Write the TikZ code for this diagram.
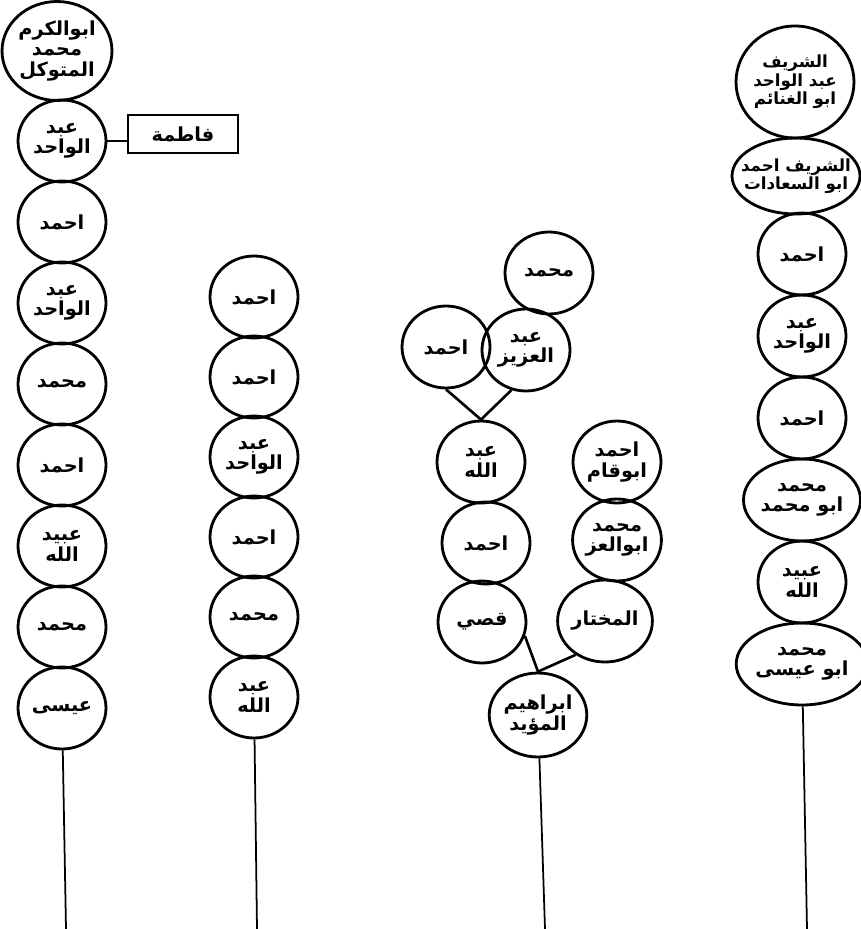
\documentclass[tikz,border=0pt]{standalone}
\usepackage{fontspec}
\newfontfamily\arabicfont[Script=Arabic]{DejaVu Sans}
\TeXXeTstate=1
\usetikzlibrary{shapes.geometric, positioning}
\newcommand{\rl}[1]{\beginR #1\endR}
\tikzset{%
  % one member of the line
  person/.style={ellipse, draw, line width=1.6pt, inner sep=0pt,
    minimum width=1.76cm, minimum height=1.64cm, align=center,
    font=\arabicfont\bfseries\fontsize{11}{11.5}\selectfont},
  % the long names at the top of the fourth line
  longname/.style={person, font=\arabicfont\bfseries\fontsize{9.5}{10.5}\selectfont},
  % name in a box
  namebox/.style={rectangle, draw, line width=1.6pt, minimum width=2.2cm,
    minimum height=0.76cm, font=\arabicfont\bfseries\fontsize{11}{12}\selectfont},
  link/.style={line width=1.5pt},
  stem/.style={line width=1pt},
}
\begin{document}
\begin{tikzpicture}[x=0.02cm, y=-0.02cm]
  \useasboundingbox (0,0) rectangle (860,929);

  % first line
  \node[person, minimum width=2.2cm, minimum height=1.98cm] (karam) at (57,51)
    {\rl{ابوالكرم}\\\rl{محمد}\\\rl{المتوكل}};
  \foreach \t [count=\i] in {{\rl{عبد}\\\rl{الواحد}}, {\rl{احمد}}, {\rl{عبد}\\\rl{الواحد}},
      {\rl{محمد}}, {\rl{احمد}}, {\rl{عبيد}\\\rl{الله}}, {\rl{محمد}}, {\rl{عيسى}}}
    \node[person] (one\i) at (62, 60+81*\i) {\t};
  \node[namebox] (fatima) at (183,134) {\rl{فاطمة}};
  \draw[link] (one1.east) -- (one1.east -| fatima.west);

  % second line
  \foreach \t [count=\i] in {{\rl{احمد}}, {\rl{احمد}}, {\rl{عبد}\\\rl{الواحد}},
      {\rl{احمد}}, {\rl{محمد}}, {\rl{عبد}\\\rl{الله}}}
    \node[person] (two\i) at (254, 217+80*\i) {\t};

  % third line
  \node[person] (muhtop) at (549,273) {\rl{محمد}};
  \node[person] (ahmtop) at (446,347) {\rl{احمد}};
  \node[person] (aziz) at (526,350) {\rl{عبد}\\\rl{العزيز}};
  \node[person] (abdallah) at (481,462) {\rl{عبد}\\\rl{الله}};
  \node[person] (ahmmid) at (486,543) {\rl{احمد}};
  \node[person] (qusay) at (482,622) {\rl{قصي}};
  \node[person] (abuqasim) at (617,462) {\rl{احمد}\\\rl{ابوقام}};
  \node[person] (abuizz) at (617,540) {\rl{محمد}\\\rl{ابوالعز}};
  \node[person] (mukhtar) at (605,621) {\rl{المختار}};
  \node[person, minimum width=1.8cm, minimum height=1.68cm] (ibrahim) at (538,715)
    {\rl{ابراهيم}\\\rl{المؤيد}};
  \draw[link] (ahmtop.south) -- (abdallah.north) -- (aziz.250);
  \draw[link] (qusay.-18) -- (ibrahim.north) -- (mukhtar.229);

  % fourth line
  \node[longname, minimum width=2.36cm, minimum height=2.24cm, inner xsep=-0.15cm]
    (ghanaim) at (795,82) {\rl{الشريف}\\\rl{عبد الواحد}\\\rl{ابو الغنائم}};
  \node[longname, minimum width=2.56cm, minimum height=1.52cm, inner xsep=-0.3cm]
    (saadat) at (796,176) {\rl{الشريف احمد}\\\rl{ابو السعادات}};
  \foreach \t [count=\i] in {{\rl{احمد}}, {\rl{عبد}\\\rl{الواحد}}, {\rl{احمد}},
      {\rl{محمد}\\\rl{ابو محمد}}, {\rl{عبيد}\\\rl{الله}}, {\rl{محمد}\\\rl{ابو عيسى}}}
    \node[person] (four\i) at (802, 172+82*\i) {\t};

  % down to the foot of the page
  \coordinate (foot1) at (66,929);
  \coordinate (foot2) at (257,929);
  \coordinate (foot3) at (545,929);
  \coordinate (foot4) at (807,929);
  \foreach \n/\f in {one8/foot1, two6/foot2, ibrahim/foot3, four6/foot4}
    \draw[stem] (\n) -- (\f);
\end{tikzpicture}
\end{document}
